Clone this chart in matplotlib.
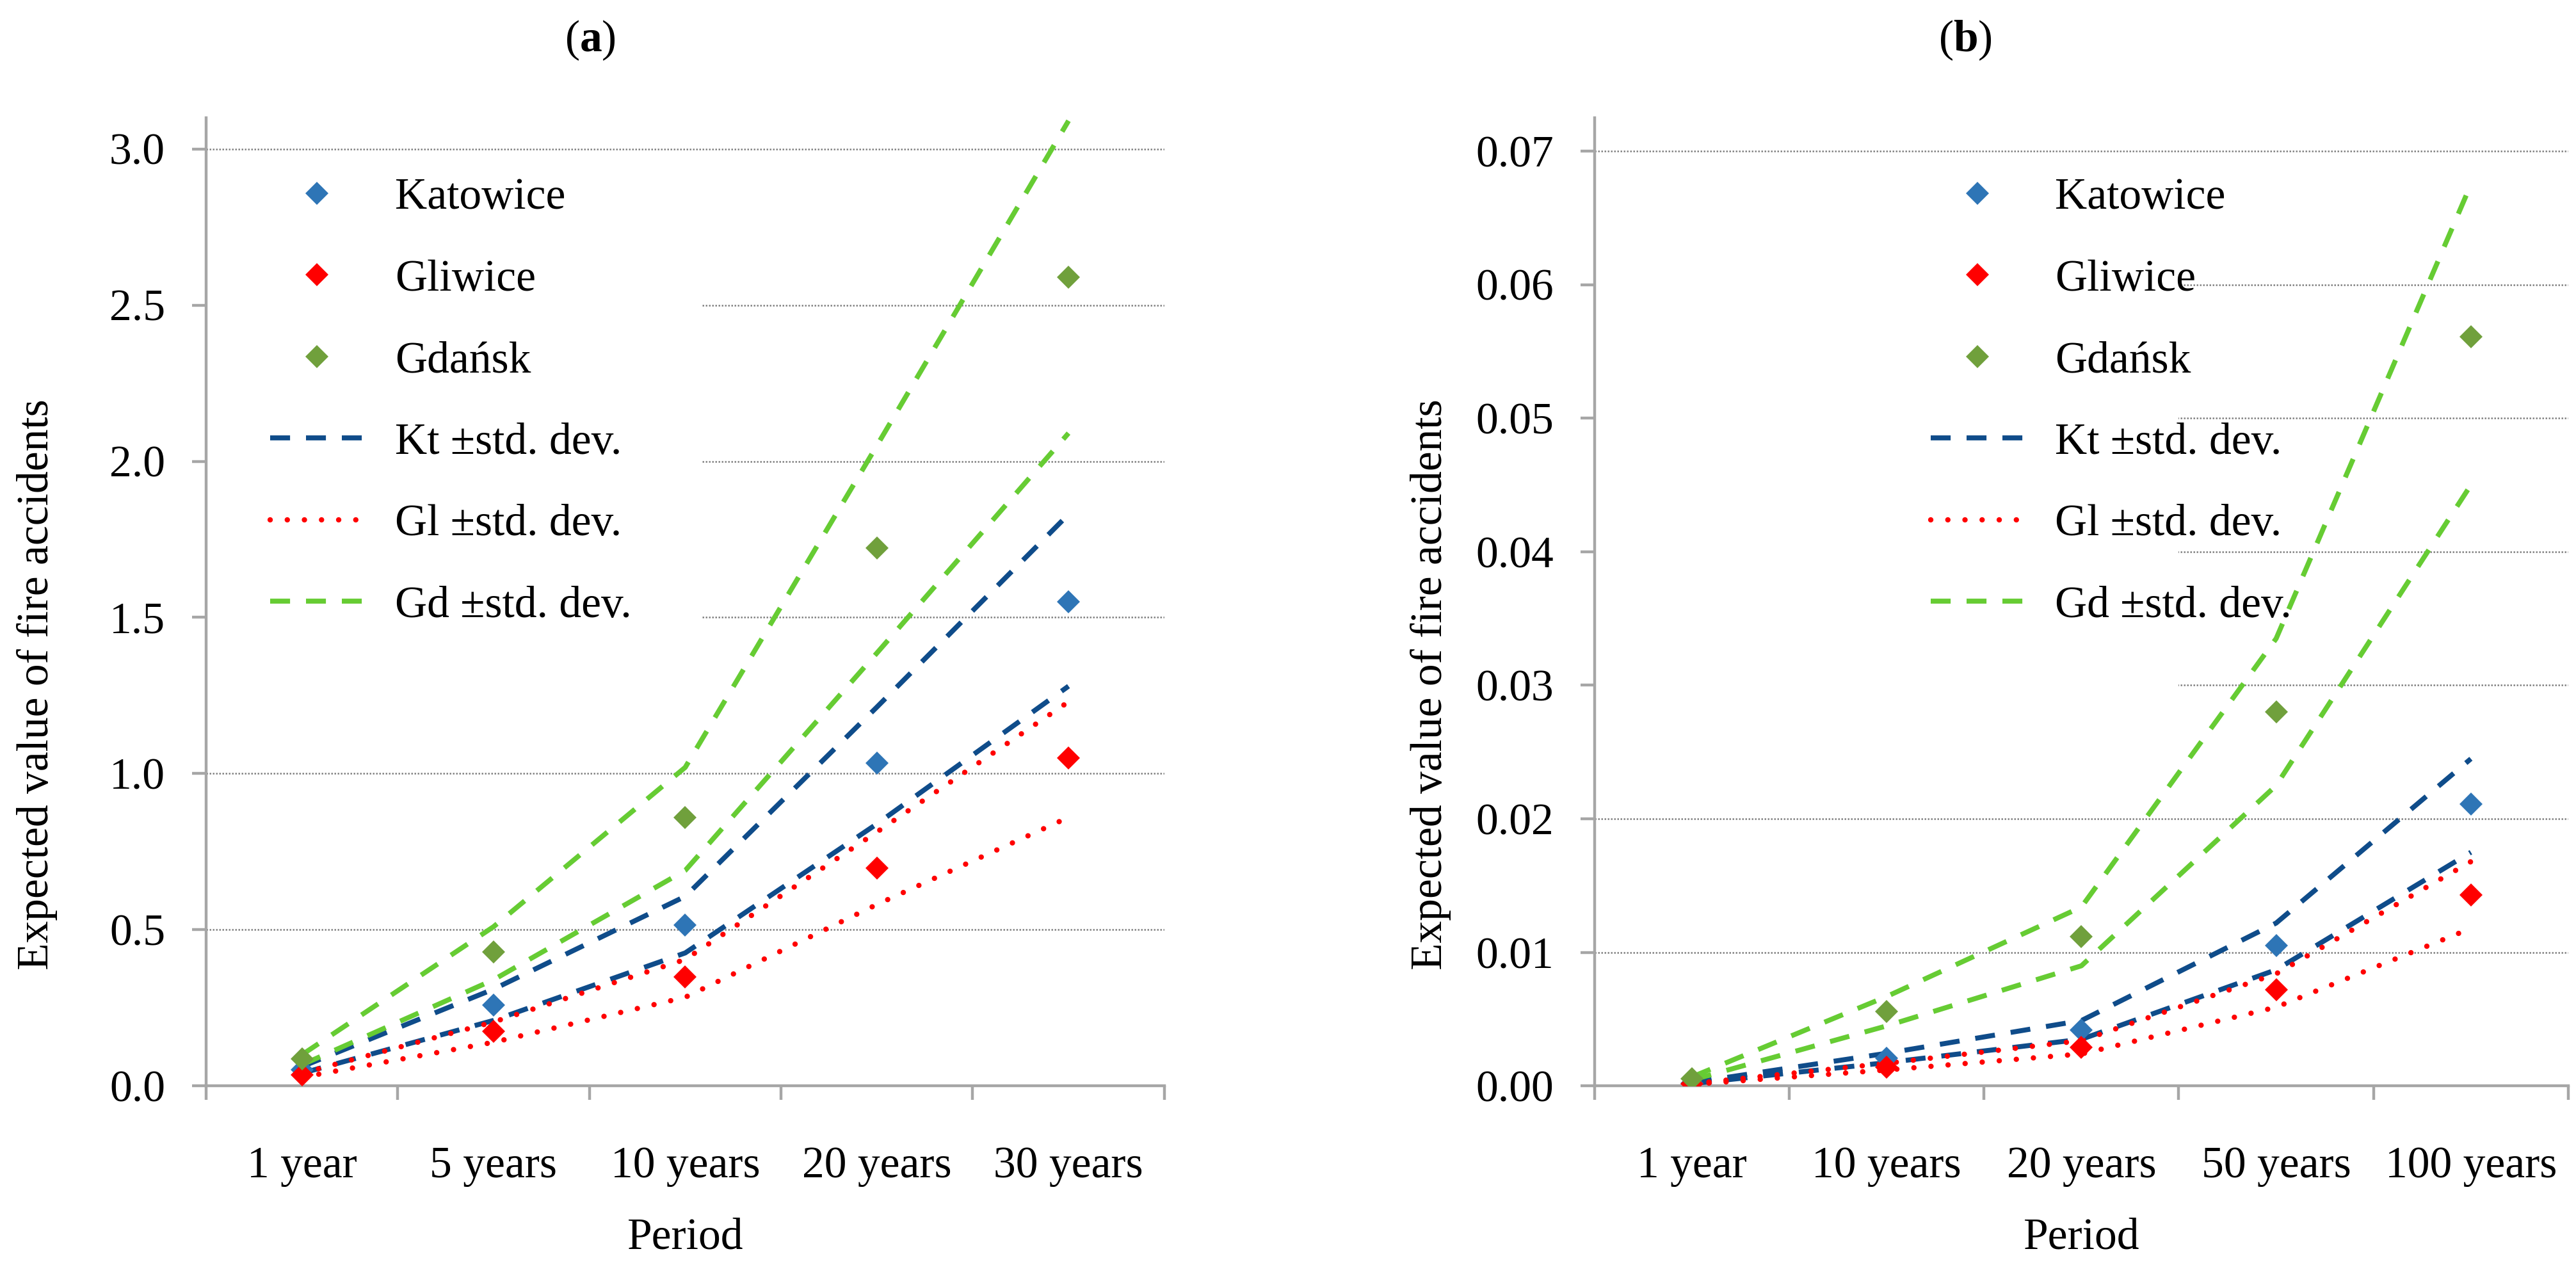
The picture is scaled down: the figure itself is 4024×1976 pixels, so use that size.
import matplotlib
matplotlib.use('Agg')
import matplotlib.pyplot as plt
import numpy as np
from matplotlib.patches import Rectangle
from matplotlib.ticker import FormatStrFormatter

plt.rcParams['font.family'] = ['Liberation Serif', 'DejaVu Serif']
plt.rcParams['mathtext.fontset'] = 'custom'
plt.rcParams['mathtext.rm'] = 'Liberation Serif'
plt.rcParams['mathtext.bf'] = 'Liberation Serif:bold'

# panel (a)
periods_a = ['1 year', '5 years', '10 years', '20 years', '30 years']
katowice_a = [0.052, 0.26, 0.516, 1.033, 1.55]
gliwice_a = [0.035, 0.175, 0.349, 0.697, 1.05]
gdansk_a = [0.086, 0.43, 0.86, 1.722, 2.59]
kt_up_a = [0.062, 0.31, 0.607, 1.213, 1.83]
kt_lo_a = [0.041, 0.21, 0.426, 0.839, 1.28]
gl_up_a = [0.041, 0.205, 0.405, 0.813, 1.23]
gl_lo_a = [0.028, 0.14, 0.284, 0.581, 0.86]
gd_up_a = [0.10, 0.51, 1.02, 2.05, 3.09]
gd_lo_a = [0.068, 0.34, 0.69, 1.386, 2.09]

# panel (b)
periods_b = ['1 year', '10 years', '20 years', '50 years', '100 years']
katowice_b = [0.0002, 0.0021, 0.0042, 0.0105, 0.0211]
gliwice_b = [0.00014, 0.0014, 0.0029, 0.0072, 0.0143]
gdansk_b = [0.00056, 0.0056, 0.0112, 0.0280, 0.0561]
kt_up_b = [0.00025, 0.00245, 0.0049, 0.0122, 0.0245]
kt_lo_b = [0.00018, 0.00175, 0.0035, 0.0087, 0.0175]
gl_up_b = [0.00017, 0.0017, 0.0034, 0.0084, 0.0168]
gl_lo_b = [0.00012, 0.0012, 0.0024, 0.0059, 0.0118]
gd_up_b = [0.00068, 0.0067, 0.0134, 0.0335, 0.0675]
gd_lo_b = [0.00045, 0.0045, 0.0090, 0.0225, 0.0450]

axis_gray = '#A6A6A6'
fs = 25


def draw_panel(ax, periods, kat, gli, gda, kt_up, kt_lo, gl_up, gl_lo, gd_up, gd_lo,
               ymax, ystep, yfmt, leg_x, box_x0, box_x1):
    x = np.arange(len(periods))

    # fond blanc de la legende (cache la grille)
    ax.add_patch(Rectangle((box_x0, 0.40), box_x1 - box_x0, 0.555, transform=ax.transAxes,
                           facecolor='white', edgecolor='none', zorder=1))

    ax.plot(x, kat, linestyle='none', marker='D', markersize=9, color='#2E75B6',
            markeredgewidth=0, label='Katowice', zorder=4)
    ax.plot(x, gli, linestyle='none', marker='D', markersize=9, color='#FF0000',
            markeredgewidth=0, label='Gliwice', zorder=4)
    ax.plot(x, gda, linestyle='none', marker='D', markersize=9, color='#70A03C',
            markeredgewidth=0, label='Gdańsk', zorder=4)

    kt_style = dict(color='#0F4C8A', lw=2.8, linestyle=(0, (4.0, 3.2)), zorder=3)
    gl_style = dict(color='#FF0000', lw=3.0, linestyle=(0, (0.01, 3.2)),
                    dash_capstyle='round', zorder=3)
    gd_style = dict(color='#66CC33', lw=2.8, linestyle=(0, (4.0, 3.2)), zorder=3)
    ax.plot(x, kt_up, label='Kt ±std. dev.', **kt_style)
    ax.plot(x, kt_lo, **kt_style)
    ax.plot(x, gl_up, label='Gl ±std. dev.', **gl_style)
    ax.plot(x, gl_lo, **gl_style)
    ax.plot(x, gd_up, label='Gd ±std. dev.', **gd_style)
    ax.plot(x, gd_lo, **gd_style)

    ax.set_xlim(-0.5, len(periods) - 0.5)
    ax.set_ylim(0, ymax)
    ax.set_yticks(np.arange(0, ymax, ystep))
    ax.yaxis.set_major_formatter(FormatStrFormatter(yfmt))

    ax.set_xticks(np.arange(-0.5, len(periods), 1))
    ax.set_xticklabels([])
    ax.set_xticks(x, minor=True)
    ax.set_xticklabels(periods, minor=True)

    ax.set_axisbelow(True)
    ax.yaxis.grid(True, color='#808080', linestyle=(0, (1, 1)), linewidth=0.9)

    for s in ['top', 'right']:
        ax.spines[s].set_visible(False)
    for s in ['left', 'bottom']:
        ax.spines[s].set_color(axis_gray)
        ax.spines[s].set_linewidth(1.6)

    ax.tick_params(axis='y', direction='out', length=8, width=1.6, color=axis_gray,
                   pad=15, labelsize=fs)
    ax.tick_params(axis='x', which='major', direction='out', length=8, width=1.6,
                   color=axis_gray)
    ax.tick_params(axis='x', which='minor', length=0, pad=34, labelsize=fs)

    ax.set_xlabel('Period', fontsize=fs)
    ax.set_ylabel('Expected value of fire accidents', fontsize=25)

    ax.legend(loc='upper left', bbox_to_anchor=(leg_x, 0.938), frameon=False,
              fontsize=fs, numpoints=1, borderpad=0, borderaxespad=0,
              handlelength=2.1, handletextpad=0.7, labelspacing=0.92)


fig = plt.figure(figsize=(20.12, 9.88), dpi=200)
ax_a = fig.add_axes([0.080, 0.1415, 0.372, 0.7655])
ax_b = fig.add_axes([0.619, 0.1415, 0.378, 0.7655])

draw_panel(ax_a, periods_a, katowice_a, gliwice_a, gdansk_a, kt_up_a, kt_lo_a,
           gl_up_a, gl_lo_a, gd_up_a, gd_lo_a, 3.1, 0.5, '%.1f', 0.067, 0.0, 0.517)
draw_panel(ax_b, periods_b, katowice_b, gliwice_b, gdansk_b, kt_up_b, kt_lo_b,
           gl_up_b, gl_lo_b, gd_up_b, gd_lo_b, 0.0725, 0.01, '%.2f', 0.345, 0.0, 0.60)

ax_a.xaxis.set_label_coords(0.5, -0.136)
ax_b.xaxis.set_label_coords(0.5, -0.136)
ax_a.yaxis.set_label_coords(-0.155, 0.415)
ax_b.yaxis.set_label_coords(-0.147, 0.415)

fig.text(0.229, 0.968, r'($\mathbf{a}$)', ha='center', va='center', fontsize=25)
fig.text(0.763, 0.968, r'($\mathbf{b}$)', ha='center', va='center', fontsize=25)

fig.savefig('out.png', dpi=200, facecolor='white')
